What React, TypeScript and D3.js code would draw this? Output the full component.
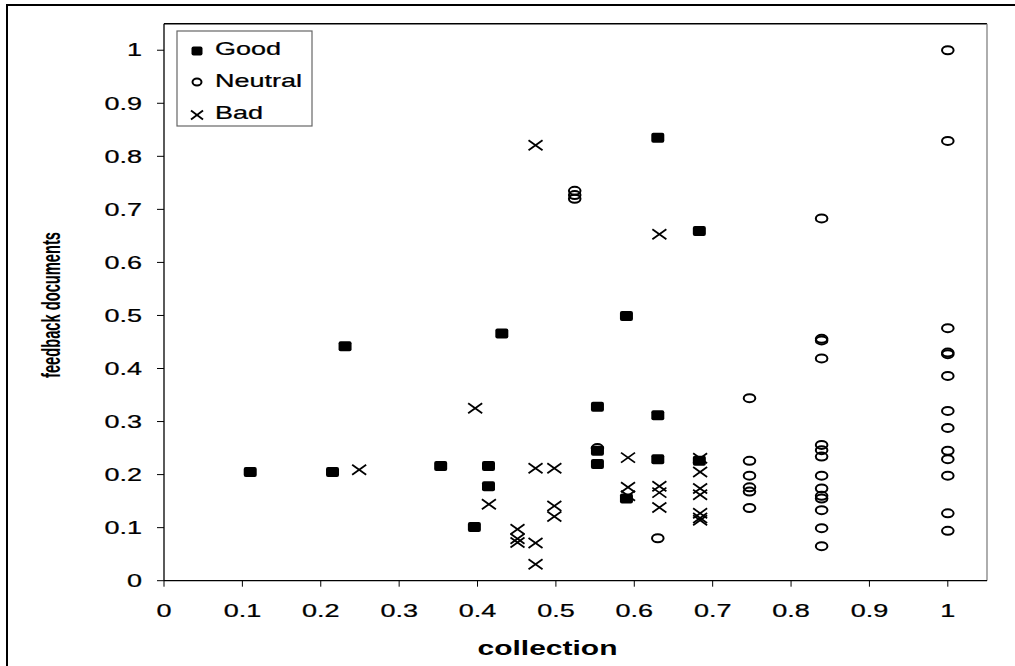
import React from "react";
import * as d3 from "d3";

const xTicks = [0, 0.1, 0.2, 0.3, 0.4, 0.5, 0.6, 0.7, 0.8, 0.9, 1];
const yTicks = [0, 0.1, 0.2, 0.3, 0.4, 0.5, 0.6, 0.7, 0.8, 0.9, 1];

const goodX = [0.11, 0.215, 0.231, 0.353, 0.396, 0.414, 0.414, 0.431, 0.553, 0.553, 0.553, 0.59, 0.59, 0.63, 0.63, 0.63, 0.683, 0.683];
const goodY = [0.205, 0.205, 0.442, 0.216, 0.101, 0.216, 0.178, 0.466, 0.328, 0.245, 0.22, 0.499, 0.155, 0.835, 0.312, 0.229, 0.659, 0.226];

const neutralX = [0.524, 0.524, 0.524, 0.553, 0.63, 0.747, 0.747, 0.747, 0.747, 0.747, 0.747, 0.839, 0.839, 0.839, 0.839, 0.839, 0.839, 0.839, 0.839, 0.839, 0.839, 0.839, 0.839, 0.839, 0.839, 1, 1, 1, 1, 1, 1, 1, 1, 1, 1, 1, 1, 1];
const neutralY = [0.735, 0.727, 0.72, 0.25, 0.08, 0.344, 0.226, 0.198, 0.176, 0.168, 0.137, 0.683, 0.456, 0.453, 0.419, 0.256, 0.246, 0.234, 0.198, 0.174, 0.16, 0.155, 0.133, 0.099, 0.065, 1, 0.829, 0.476, 0.43, 0.427, 0.386, 0.32, 0.288, 0.245, 0.229, 0.198, 0.127, 0.094];

const badX = [0.249, 0.397, 0.4145, 0.451, 0.451, 0.451, 0.474, 0.474, 0.474, 0.474, 0.498, 0.498, 0.498, 0.592, 0.592, 0.592, 0.632, 0.632, 0.632, 0.632, 0.684, 0.684, 0.684, 0.684, 0.684, 0.684, 0.684];
const badY = [0.209, 0.325, 0.144, 0.097, 0.079, 0.072, 0.821, 0.212, 0.071, 0.031, 0.212, 0.141, 0.121, 0.232, 0.176, 0.16, 0.653, 0.178, 0.166, 0.138, 0.231, 0.205, 0.174, 0.162, 0.127, 0.118, 0.114];

const legendItems = ["Good", "Neutral", "Bad"];

const FONT = "'Liberation Sans', Arial, sans-serif";
const SX = 1.5;

const Square = ({ cx, cy, w = 13, h = 10 }: any) => (
  <rect x={cx - w / 2} y={cy - h / 2} width={w} height={h} rx={2} fill="#000" />
);
const Ring = ({ cx, cy, rx = 5.8, ry = 4 }: any) => (
  <ellipse cx={cx} cy={cy} rx={rx} ry={ry} fill="none" stroke="#000" strokeWidth={2} />
);
const Cross = ({ cx, cy, w = 7, h = 5 }: any) => (
  <g stroke="#000" strokeWidth={1.8}>
    <line x1={cx - w} y1={cy - h} x2={cx + w} y2={cy + h} />
    <line x1={cx - w} y1={cy + h} x2={cx + w} y2={cy - h} />
  </g>
);

export default function App() {
  const left = 164, right = 987, top = 23.7, bottom = 580.7;
  const x = d3.scaleLinear().domain([0, 1.05]).range([left, right]);
  const y = d3.scaleLinear().domain([0, 1.05]).range([bottom, top]);

  const stext = (tx: number, ty: number, s: string, anchor: string, size = 18, weight = "normal", key?: any) => (
    <text key={key} transform={`translate(${tx},${ty}) scale(${SX},1)`} textAnchor={anchor}
      fontFamily={FONT} fontSize={size} fontWeight={weight} dominantBaseline="central" fill="#000"
      stroke="#000" strokeWidth={weight === "bold" ? 0 : 0.25}>
      {s}
    </text>
  );

  return (
    <svg width={1015} height={666} style={{ position: "absolute", left: 0, top: 0, background: "#fff" }}>
      <rect x={0} y={0} width={1015} height={666} fill="#fff" />
      <rect x={7} y={5} width={1012} height={670} fill="none" stroke="#000" strokeWidth={2} />

      {/* plot frame */}
      <line x1={left} y1={top} x2={right} y2={top} stroke="#000" strokeWidth={1.5} />
      <line x1={right} y1={top} x2={right} y2={bottom} stroke="#777" strokeWidth={1.2} />
      <line x1={left} y1={top} x2={left} y2={bottom} stroke="#000" strokeWidth={1.3} />
      <line x1={left} y1={bottom} x2={right} y2={bottom} stroke="#000" strokeWidth={1.3} />

      {/* ticks */}
      {xTicks.map((t) => (
        <g key={"xt" + t}>
          <line x1={x(t)} x2={x(t)} y1={bottom} y2={bottom + 6} stroke="#000" strokeWidth={1} />
          {stext(x(t), 611, String(t), "middle")}
        </g>
      ))}
      {yTicks.map((t) => (
        <g key={"yt" + t}>
          <line x1={left - 7} x2={left} y1={y(t)} y2={y(t)} stroke="#000" strokeWidth={1} />
          {stext(142, y(t), String(t), "end")}
        </g>
      ))}

      {/* axis titles */}
      {stext((left + right) / 2 - 28, 648, "collection", "middle", 20, "bold")}
      <text transform={`translate(51,305) scale(1.5,1) rotate(-90)`} textAnchor="middle"
        dominantBaseline="central" fontFamily={FONT} fontSize={17} fontWeight="bold"
        textLength={146} lengthAdjust="spacingAndGlyphs">feedback documents</text>

      {/* data */}
      {neutralX.map((v, i) => <Ring key={"n" + i} cx={x(v)} cy={y(neutralY[i])} />)}
      {goodX.map((v, i) => <Square key={"g" + i} cx={x(v)} cy={y(goodY[i])} />)}
      {badX.map((v, i) => <Cross key={"b" + i} cx={x(v)} cy={y(badY[i])} />)}

      {/* legend */}
      <rect x={177} y={31} width={135} height={95} fill="#fff" stroke="#666" strokeWidth={1.2} />
      <Square cx={197} cy={51} w={11} h={9} />
      <Ring cx={197} cy={82} rx={4.5} ry={3.5} />
      <Cross cx={197} cy={115} w={6} h={4.5} />
      {legendItems.map((s, i) => stext(215, [49, 81, 113][i], s, "start", 18, "normal", "l" + i))}
    </svg>
  );
}
